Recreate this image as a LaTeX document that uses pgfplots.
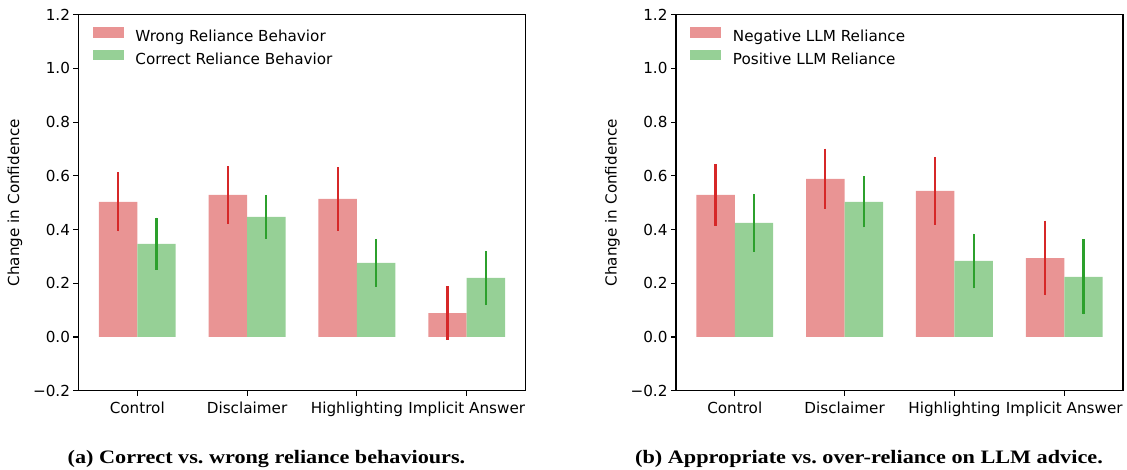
\documentclass[border=0pt]{standalone}
\usepackage{pgfplots}
\pgfplotsset{compat=1.18}
\usepackage{pgfplotstable}
\usepackage{fontspec}
\setmainfont{DejaVu Sans}
\newfontfamily\capfont{Liberation Serif}
\definecolor{barred}{HTML}{E99494}
\definecolor{bargreen}{HTML}{96D096}
\definecolor{errred}{HTML}{D62728}
\definecolor{errgreen}{HTML}{2CA02C}

\pgfplotstableread{
x a ae b be
0 0.503 0.110 0.347 0.097
1 0.529 0.107 0.447 0.082
2 0.514 0.118 0.276 0.089
3 0.089 0.100 0.220 0.101
}\lefttable
\pgfplotstableread{
x a ae b be
0 0.529 0.114 0.425 0.108
1 0.589 0.112 0.503 0.095
2 0.544 0.127 0.283 0.102
3 0.294 0.139 0.224 0.140
}\righttable

\newcommand{\tfont}{\fontsize{15.2pt}{18pt}\selectfont}
\pgfplotsset{
  myaxis/.style={
    scale only axis, width=447pt, height=376pt,
    anchor=south west,
    xmin=-0.535, xmax=3.535, ymin=-0.2, ymax=1.2,
    ytick={-0.2,0,0.2,0.4,0.6,0.8,1.0,1.2},
    yticklabels={−0.2,0.0,0.2,0.4,0.6,0.8,1.0,1.2},
    xtick={0,1,2,3},
    xticklabels={Control,Disclaimer,Highlighting,Implicit Answer},
    tick align=outside, tick pos=left,
    major tick length=5pt,
    tick style={black, line width=1.1pt},
    axis line style={black, line width=1.1pt},
    ticklabel style={font=\tfont},
    xticklabel style={yshift=-2.5pt},
    ylabel={Change in Confidence},
    ylabel style={font=\tfont, at={(axis description cs:-0.142,0.5)}, anchor=center},
    ybar, bar width=0.35,
    legend cell align=left,
    legend style={draw=none, fill=none, at={(axis description cs:0,1)},
      anchor=north west, xshift=14.2pt, yshift=-12.3pt,
      inner sep=0pt, row sep=4.7pt, column sep=11.5pt,
      font=\tfont,
      nodes={inner sep=0pt, text height=11pt, text depth=3pt}},
  },
  redbar/.style={fill=barred, draw=none, bar shift=-0.175,
    legend image code/.code={\fill[barred] (0pt,0pt) rectangle (31pt,10.7pt);},
    error bars/.cd, y dir=both, y explicit, error mark=none,
    error bar style={line width=2.2pt, color=errred}},
  greenbar/.style={fill=bargreen, draw=none, bar shift=0.175,
    legend image code/.code={\fill[bargreen] (0pt,0pt) rectangle (31pt,10.7pt);},
    error bars/.cd, y dir=both, y explicit, error mark=none,
    error bar style={line width=2.2pt, color=errgreen}},
}
\newcommand{\capstyle}{\capfont\bfseries\fontsize{19pt}{22pt}\selectfont}

\begin{document}
\begin{tikzpicture}[x=1pt,y=1pt]
\path[use as bounding box] (0,0) rectangle (1127,469);

\begin{axis}[myaxis, at={(78.5pt,78.3pt)}]
\addplot[redbar] table[x=x, y=a, y error=ae] {\lefttable};
\addplot[greenbar] table[x=x, y=b, y error=be] {\lefttable};
\legend{Wrong Reliance Behavior, Correct Reliance Behavior}
\end{axis}

\begin{axis}[myaxis, at={(676pt,78.3pt)}]
\addplot[redbar] table[x=x, y=a, y error=ae] {\righttable};
\addplot[greenbar] table[x=x, y=b, y error=be] {\righttable};
\legend{Negative LLM Reliance, Positive LLM Reliance}
\end{axis}

\node[anchor=base, inner sep=0pt] at (266.5,6) {\scalebox{1.168}[1]{\capstyle (a) Correct vs.\ wrong reliance behaviours.}};
\node[anchor=base, inner sep=0pt] at (869,6) {\scalebox{1.17}[1]{\capstyle (b) Appropriate vs.\ over-reliance on LLM advice.}};
\end{tikzpicture}
\end{document}
